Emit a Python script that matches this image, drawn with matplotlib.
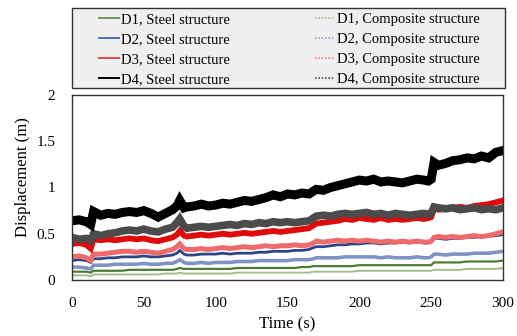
import matplotlib
matplotlib.use("Agg")
import matplotlib.pyplot as plt
from matplotlib.lines import Line2D
from matplotlib.patches import Rectangle

plt.rcParams['font.family'] = ['Liberation Serif', 'DejaVu Serif']

time_s = [0, 5, 10, 13, 15, 20, 25, 30, 35, 40, 45, 50, 55, 60, 65, 70, 73, 75, 78, 80,
          85, 90, 95, 100, 105, 110, 115, 120, 125, 130, 135, 140, 145, 150, 155, 160, 165, 168, 170, 175,
          180, 185, 190, 195, 200, 205, 210, 215, 220, 225, 230, 235, 240, 245, 248, 250, 252, 255, 260, 265,
          270, 275, 280, 285, 290, 295, 300]

d4_steel = [0.64, 0.65, 0.63, 0.60, 0.74, 0.70, 0.72, 0.71, 0.73, 0.74, 0.73, 0.75, 0.72, 0.68, 0.72,
            0.76, 0.80, 0.86, 0.78, 0.79, 0.80, 0.82, 0.80, 0.81, 0.83, 0.82, 0.84, 0.86, 0.85, 0.87,
            0.89, 0.92, 0.90, 0.93, 0.92, 0.94, 0.93, 0.96, 0.98, 0.97, 1.00, 1.02, 1.04, 1.06, 1.08,
            1.07, 1.09, 1.06, 1.07, 1.06, 1.05, 1.07, 1.09, 1.08, 1.07, 1.09, 1.27, 1.24, 1.26, 1.29,
            1.30, 1.32, 1.31, 1.34, 1.32, 1.38, 1.40]
d4_comp = [0.46, 0.44, 0.45, 0.43, 0.50, 0.48, 0.50, 0.51, 0.53, 0.54, 0.53, 0.55, 0.53, 0.52, 0.55,
           0.57, 0.62, 0.66, 0.58, 0.56, 0.57, 0.58, 0.57, 0.58, 0.59, 0.60, 0.59, 0.61, 0.60, 0.62,
           0.61, 0.63, 0.62, 0.63, 0.62, 0.63, 0.64, 0.67, 0.69, 0.70, 0.69, 0.71, 0.72, 0.71, 0.72,
           0.73, 0.71, 0.72, 0.70, 0.72, 0.71, 0.70, 0.71, 0.72, 0.71, 0.72, 0.79, 0.78, 0.77, 0.78,
           0.76, 0.77, 0.78, 0.76, 0.77, 0.76, 0.78]
d3_steel = [0.39, 0.40, 0.38, 0.34, 0.44, 0.43, 0.44, 0.43, 0.44, 0.45, 0.44, 0.45, 0.43, 0.42, 0.44,
            0.46, 0.49, 0.53, 0.48, 0.47, 0.48, 0.49, 0.48, 0.49, 0.50, 0.49, 0.50, 0.51, 0.50, 0.51,
            0.52, 0.53, 0.52, 0.53, 0.54, 0.55, 0.56, 0.59, 0.61, 0.62, 0.63, 0.64, 0.66, 0.65, 0.67,
            0.66, 0.65, 0.67, 0.65, 0.66, 0.65, 0.66, 0.67, 0.66, 0.67, 0.68, 0.77, 0.76, 0.77, 0.78,
            0.79, 0.78, 0.80, 0.81, 0.82, 0.84, 0.86]
d3_comp = [0.25, 0.26, 0.24, 0.21, 0.28, 0.28, 0.29, 0.30, 0.31, 0.31, 0.30, 0.31, 0.30, 0.29, 0.31,
           0.33, 0.36, 0.39, 0.34, 0.33, 0.33, 0.34, 0.33, 0.34, 0.35, 0.34, 0.35, 0.36, 0.35, 0.36,
           0.37, 0.36, 0.37, 0.37, 0.38, 0.37, 0.38, 0.40, 0.42, 0.41, 0.42, 0.43, 0.42, 0.43, 0.42,
           0.43, 0.42, 0.41, 0.42, 0.41, 0.42, 0.41, 0.42, 0.41, 0.41, 0.42, 0.46, 0.47, 0.46, 0.47,
           0.46, 0.47, 0.48, 0.47, 0.48, 0.50, 0.52]
d2_steel = [0.21, 0.22, 0.21, 0.19, 0.23, 0.23, 0.24, 0.24, 0.25, 0.25, 0.25, 0.26, 0.25, 0.25, 0.26,
            0.27, 0.29, 0.32, 0.28, 0.27, 0.27, 0.28, 0.28, 0.28, 0.29, 0.28, 0.29, 0.29, 0.29, 0.30,
            0.30, 0.31, 0.31, 0.31, 0.32, 0.32, 0.33, 0.35, 0.36, 0.36, 0.37, 0.38, 0.38, 0.39, 0.39,
            0.40, 0.40, 0.39, 0.40, 0.40, 0.41, 0.40, 0.41, 0.40, 0.40, 0.41, 0.45, 0.45, 0.44, 0.45,
            0.45, 0.46, 0.46, 0.47, 0.47, 0.48, 0.49]
d2_comp = [0.14, 0.14, 0.13, 0.12, 0.16, 0.16, 0.16, 0.17, 0.17, 0.17, 0.17, 0.18, 0.17, 0.17, 0.18,
           0.18, 0.20, 0.22, 0.19, 0.18, 0.18, 0.19, 0.18, 0.19, 0.19, 0.19, 0.20, 0.20, 0.20, 0.21,
           0.21, 0.21, 0.21, 0.21, 0.22, 0.22, 0.22, 0.23, 0.24, 0.24, 0.24, 0.24, 0.25, 0.25, 0.25,
           0.25, 0.25, 0.24, 0.25, 0.24, 0.24, 0.24, 0.25, 0.24, 0.24, 0.25, 0.28, 0.28, 0.27, 0.28,
           0.28, 0.28, 0.29, 0.29, 0.29, 0.30, 0.31]
d1_steel = [0.09, 0.09, 0.09, 0.08, 0.10, 0.10, 0.10, 0.10, 0.10, 0.11, 0.11, 0.11, 0.11, 0.11, 0.11,
            0.11, 0.12, 0.13, 0.12, 0.12, 0.12, 0.12, 0.12, 0.12, 0.12, 0.12, 0.13, 0.13, 0.13, 0.13,
            0.13, 0.13, 0.13, 0.13, 0.13, 0.14, 0.14, 0.15, 0.15, 0.15, 0.15, 0.15, 0.15, 0.15, 0.16,
            0.16, 0.16, 0.16, 0.16, 0.16, 0.16, 0.16, 0.16, 0.16, 0.16, 0.16, 0.19, 0.19, 0.19, 0.19,
            0.19, 0.20, 0.20, 0.20, 0.20, 0.20, 0.21]
d1_comp = [0.05, 0.05, 0.05, 0.04, 0.06, 0.06, 0.06, 0.06, 0.06, 0.06, 0.06, 0.06, 0.06, 0.06, 0.07,
           0.07, 0.07, 0.08, 0.07, 0.07, 0.07, 0.07, 0.07, 0.07, 0.07, 0.07, 0.08, 0.08, 0.08, 0.08,
           0.08, 0.08, 0.08, 0.08, 0.08, 0.08, 0.08, 0.09, 0.09, 0.09, 0.09, 0.09, 0.09, 0.09, 0.10,
           0.10, 0.10, 0.10, 0.10, 0.10, 0.10, 0.10, 0.10, 0.10, 0.10, 0.10, 0.11, 0.11, 0.11, 0.11,
           0.11, 0.12, 0.12, 0.12, 0.12, 0.12, 0.13]

steel_labels = ["D1, Steel structure", "D2, Steel structure", "D3, Steel structure", "D4, Steel structure"]
comp_labels = ["D1, Composite structure", "D2, Composite structure", "D3, Composite structure", "D4, Composite structure"]
x_ticks = [0, 50, 100, 150, 200, 250, 300]
y_ticks = [0, 0.5, 1, 1.5, 2]
y_ticklabels = ["0", "0.5", "1", "1.5", "2"]

W, H = 517, 336
fig = plt.figure(figsize=(W / 100, H / 100), dpi=100)
ax = fig.add_axes([72 / W, 1 - 280 / H, 431 / W, 185 / H])

series = [
    (d1_comp, '#9dbb84', 1.3),
    (d1_steel, '#4f7a35', 1.6),
    (d2_comp, '#7f93c4', 2.6),
    (d2_steel, '#2d4585', 2.0),
    (d3_comp, '#ef6a6a', 3.6),
    (d3_steel, '#e00a0a', 4.2),
    (d4_comp, '#4b4b4b', 5.5),
    (d4_steel, '#000000', 6.5),
]
for vals, col, lw in series:
    ax.plot(time_s, vals, color=col, lw=lw, solid_joinstyle='miter')

ax.set_xlim(0, 300)
ax.set_ylim(0, 2)
ax.set_xticks(x_ticks)
ax.set_yticks(y_ticks)
ax.set_yticklabels(y_ticklabels)
ax.tick_params(length=0, labelsize=11, pad=12)
for sp in ax.spines.values():
    sp.set_color('#333333')
    sp.set_linewidth(1.0)
ax.set_xlabel("Time (s)", fontsize=12, va='center')
ax.set_ylabel("Displacement (m)", fontsize=12, va='center')
ax.xaxis.set_label_coords(0.5, (280 - 324) / 185)
ax.yaxis.set_label_coords((23 - 72) / 431, (280 - 177) / 185)

# legend frame
fig.patches.append(Rectangle((72 / W, 1 - 88 / H), 433 / W, 80 / H, transform=fig.transFigure,
                             facecolor='#efefef', edgecolor='#333333', lw=1.0, zorder=0))

steel_cols = ['#6f9a50', '#4f6fb3', '#e04848', '#000000']
comp_cols = ['#a9c48f', '#8fa3d0', '#f07c7c', '#555555']
handles = [Line2D([], [], color=c, lw=1.4) for c in steel_cols] + \
          [Line2D([], [], color=c, lw=1.2, ls=(0, (1, 1))) for c in comp_cols]
labels = steel_labels + comp_labels
leg = fig.legend(handles, labels, loc='upper left', ncol=2,
                 bbox_to_anchor=(99 / W, 1 - 13 / H),
                 fontsize=10.5, frameon=False,
                 handlelength=1.37, handletextpad=0.15, labelspacing=0.47,
                 borderpad=0, columnspacing=5.8, borderaxespad=0)

fig.savefig("out.png", dpi=100)
